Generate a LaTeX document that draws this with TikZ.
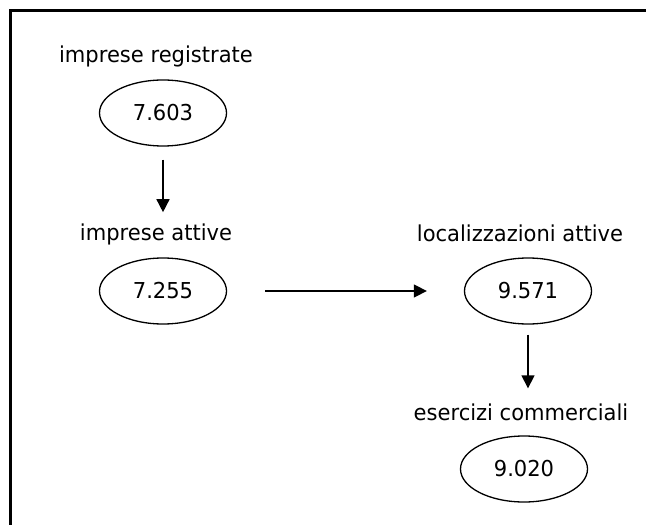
\documentclass[tikz,border=0pt]{standalone}
\usepackage{fontspec}
\setmainfont{DejaVu Sans}[FakeStretch=0.96]
\usepackage{tikz}
\usetikzlibrary{shapes.geometric, arrows.meta}

\begin{document}
\begin{tikzpicture}[x=1bp, y=-1bp,
    lbl/.style={inner sep=0pt, font=\fontsize{22}{26}\selectfont},
    numbox/.style={ellipse, draw, line width=1.3bp, minimum width=127bp, minimum height=66bp, inner sep=0pt, font=\fontsize{22}{26}\selectfont},
    flow/.style={line width=1.5bp, -{Triangle[length=13bp, width=13bp]}}]
\useasboundingbox (0,0) rectangle (646,525);

% Frame (left and top edges only)
\draw[line width=3bp] (10,530) -- (10,11) -- (650,11);

% Left column
\node[lbl] (t1) at (156,56) {imprese registrate};
\node[numbox] (e1) at (163,113) {7.603};
\node[lbl] (t2) at (156,234) {imprese attive};
\node[numbox] (e2) at (163,291) {7.255};

% Right column
\node[lbl] (t3) at (520,233) {localizzazioni attive};
\node[numbox] (e3) at (528,291) {9.571};
\node[lbl] (t4) at (521,412) {esercizi commerciali};
\node[numbox] (e4) at (524,469) {9.020};

% Arrows
\draw[flow, shorten <=13bp, shorten >=11bp] (e1) -- (e1 |- t2.north);
\draw[flow, shorten <=38bp, shorten >=37bp] (e2) -- (e3);
\draw[flow, shorten <=10bp, shorten >=15bp] (e3) -- (e3 |- t4.north);

\end{tikzpicture}
\end{document}
